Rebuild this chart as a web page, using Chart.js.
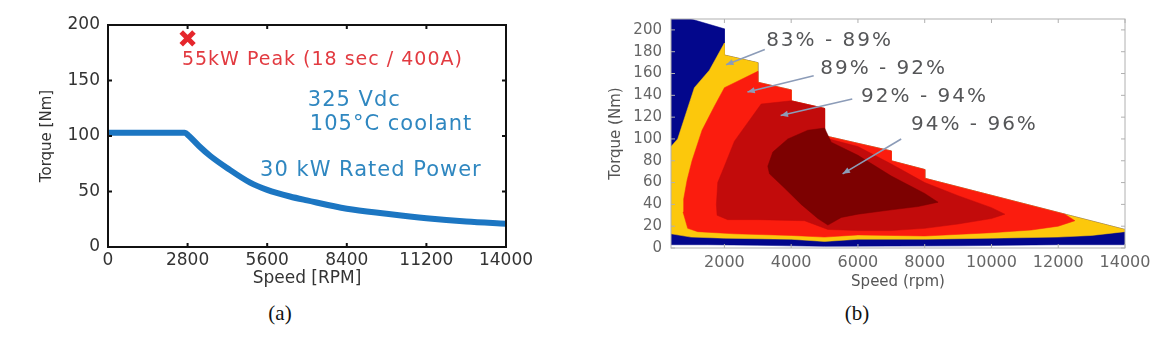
<!DOCTYPE html>
<html>
<head>
<meta charset="utf-8">
<script src="https://cdn.jsdelivr.net/npm/chart.js@4.4.1/dist/chart.umd.min.js"></script>
<style>
  body { margin: 0; background: #fff; width: 1158px; height: 343px; position: relative; overflow: hidden; }
  .panel { position: absolute; top: 0; }
  .cap { position: absolute; font-family: "Liberation Serif", serif; font-size: 21px; color: #111; transform: translate(-50%, -50%); }
</style>
</head>
<body>
<div class="panel" style="left:0"><canvas id="torqueChart" width="540" height="300"></canvas></div>
<div class="panel" style="left:590px"><canvas id="effChart" width="568" height="300"></canvas></div>
<div class="cap" style="left:280px;top:313px">(a)</div>
<div class="cap" style="left:857px;top:313px">(b)</div>

<script>
// (a) torque vs speed
const speedA = [0, 2700, 2850, 3200, 3600, 4200, 5000, 5600, 6400, 7000, 8400, 9800, 11200, 12600, 14000];
const torqueA = [103, 103, 100, 91, 82, 71, 58, 51.5, 45.5, 42, 34.5, 30, 26, 23, 21];
const peakA = { x: 2800, y: 188 };
const speedTicksA = [0, 2800, 5600, 8400, 11200, 14000];
const torqueTicksA = [0, 50, 100, 150, 200];

// (b) efficiency map, zones as [rpm, Nm] outlines
const zoneOuter = [[400, 210], [1000, 210], [2000, 201], [2000, 177], [3000, 170], [3000, 152], [4000, 145], [4000, 135],
  [5000, 128], [5000, 103], [7000, 89], [7000, 80], [8000, 72], [8000, 64], [14000, 17], [14000, 3], [12000, 3],
  [9000, 2], [5000, 1.5], [3000, 2.5], [1500, 3], [400, 3], [400, 210]];
const zone83 = [[400, 13], [400, 93], [600, 100], [1100, 147], [1550, 163], [2000, 188], [2000, 177], [3000, 170],
  [3000, 152], [4000, 145], [4000, 135], [5000, 128], [5000, 103], [7000, 89], [7000, 80], [8000, 72], [8000, 64],
  [14000, 17], [14000, 15], [13000, 11.5], [12000, 10], [10000, 9], [8000, 8], [6000, 8], [5000, 6], [4000, 8],
  [2000, 9], [1000, 10], [400, 13]];
const zone89 = [[760, 33], [780, 45], [880, 62], [1030, 80], [1330, 108], [1700, 130], [2000, 147], [3000, 162],
  [3000, 152], [4000, 145], [4000, 135], [5000, 128], [5000, 103], [7000, 89], [7000, 80], [8000, 72], [8000, 64],
  [12200, 31], [12500, 25], [12000, 20], [11200, 16.5], [10000, 14], [8000, 11], [6000, 12], [5000, 10], [4000, 11.5],
  [2300, 13], [1200, 15], [900, 18], [760, 33]];
const zone92 = [[1780, 30], [1760, 40], [1800, 60], [2000, 75], [2300, 98], [3100, 132], [4000, 135], [5000, 128],
  [5000, 101], [6000, 93], [7000, 77], [8000, 60], [9000, 48], [10000, 37], [10400, 31], [10000, 27], [9000, 22],
  [8000, 18], [7000, 16], [6000, 16], [5100, 17], [4400, 25], [3000, 26], [2100, 26], [1780, 30]];
const zone94 = [[3300, 75], [3450, 88], [3900, 100], [4500, 108], [5000, 110], [5200, 97], [6000, 85], [7000, 66],
  [8000, 50], [8400, 42], [7800, 38], [7000, 35], [6000, 31], [5500, 28], [5100, 21], [4800, 27], [4300, 40],
  [3800, 55], [3350, 68], [3300, 75]];
const zoneNames = ['83% - 89%', '89% - 92%', '92% - 94%', '94% - 96%'];
const speedTicksB = [2000, 4000, 6000, 8000, 10000, 12000, 14000];
const torqueTicksB = [0, 20, 40, 60, 80, 100, 120, 140, 160, 180, 200];

const toXY = pts => pts.map(p => ({ x: p[0], y: p[1] }));

// box round the plot with small inward ticks
function framePlugin(color, width, tickLen) {
  return {
    id: 'frame',
    afterDatasetsDraw(chart) {
      const { ctx, chartArea: a, scales: { x, y } } = chart;
      ctx.save();
      ctx.strokeStyle = color;
      ctx.lineWidth = width;
      ctx.strokeRect(a.left, a.top, a.right - a.left, a.bottom - a.top);
      ctx.beginPath();
      x.ticks.forEach(t => {
        const px = x.getPixelForValue(t.value);
        ctx.moveTo(px, a.bottom); ctx.lineTo(px, a.bottom - tickLen);
        ctx.moveTo(px, a.top); ctx.lineTo(px, a.top + tickLen);
      });
      y.ticks.forEach(t => {
        const py = y.getPixelForValue(t.value);
        ctx.moveTo(a.left, py); ctx.lineTo(a.left + tickLen, py);
        ctx.moveTo(a.right, py); ctx.lineTo(a.right - tickLen, py);
      });
      ctx.stroke();
      ctx.restore();
    }
  };
}

// text notes for (a)
const notesA = {
  id: 'notesA',
  afterDatasetsDraw(chart) {
    const { ctx, scales: { x, y } } = chart;
    ctx.save();
    ctx.textBaseline = 'middle';
    ctx.letterSpacing = '1px';
    ctx.font = '19px "DejaVu Sans"';
    ctx.fillStyle = '#e23a40';
    ctx.fillText('55kW Peak (18 sec / 400A)', x.getPixelForValue(2600), y.getPixelForValue(168));
    ctx.font = '21px "DejaVu Sans"';
    ctx.fillStyle = '#2f87c0';
    ctx.fillText('325 Vdc', x.getPixelForValue(7030), y.getPixelForValue(132));
    ctx.fillText('105\u00B0C coolant', x.getPixelForValue(7100), y.getPixelForValue(110));
    ctx.fillText('30 kW Rated Power', x.getPixelForValue(5350), y.getPixelForValue(68.5));
    ctx.restore();
  }
};

// zone labels and arrows for (b)
const notesB = {
  id: 'notesB',
  afterDatasetsDraw(chart) {
    const { ctx, scales: { x, y } } = chart;
    const spots = [[3250, 190], [4870, 164.5], [6095, 139], [7590, 113]];
    const arrows = [[3210, 182, 2050, 168], [4674, 158, 2690, 143], [5830, 136.7, 3685, 121.5], [7295, 100, 5540, 68]];
    ctx.save();
    ctx.font = '20px "DejaVu Sans"';
    ctx.letterSpacing = '2px';
    ctx.textBaseline = 'middle';
    ctx.fillStyle = '#555658';
    zoneNames.forEach((t, i) => {
      ctx.fillText(t, x.getPixelForValue(spots[i][0]), y.getPixelForValue(spots[i][1]));
    });
    ctx.strokeStyle = '#8c9cb8';
    ctx.fillStyle = '#8c9cb8';
    ctx.lineWidth = 1.6;
    arrows.forEach(a => {
      const x0 = x.getPixelForValue(a[0]), y0 = y.getPixelForValue(a[1]);
      const x1 = x.getPixelForValue(a[2]), y1 = y.getPixelForValue(a[3]);
      const ang = Math.atan2(y1 - y0, x1 - x0);
      ctx.beginPath();
      ctx.moveTo(x0, y0);
      ctx.lineTo(x1, y1);
      ctx.stroke();
      ctx.beginPath();
      ctx.moveTo(x1, y1);
      ctx.lineTo(x1 - 8 * Math.cos(ang - 0.4), y1 - 8 * Math.sin(ang - 0.4));
      ctx.lineTo(x1 - 8 * Math.cos(ang + 0.4), y1 - 8 * Math.sin(ang + 0.4));
      ctx.closePath();
      ctx.fill();
    });
    ctx.restore();
  }
};

const plain = v => String(v);
const noGrid = { display: false, drawTicks: false };

new Chart(document.getElementById('torqueChart'), {
  type: 'line',
  data: {
    datasets: [{
      data: speedA.map((s, i) => ({ x: s, y: torqueA[i] })),
      borderColor: '#1c76c2',
      borderWidth: 6,
      pointRadius: 0,
      cubicInterpolationMode: 'monotone',
      fill: false
    }, {
      data: [peakA],
      showLine: false,
      pointStyle: 'crossRot',
      pointRadius: 9,
      borderWidth: 5,
      borderColor: '#e5262c'
    }]
  },
  options: {
    responsive: false,
    animation: false,
    layout: { padding: { top: 25, right: 34, left: 0, bottom: 0 } },
    plugins: { legend: { display: false }, tooltip: { enabled: false } },
    scales: {
      x: {
        type: 'linear', min: 0, max: 14000,
        afterBuildTicks: s => { s.ticks = speedTicksA.map(v => ({ value: v })); },
        afterFit: s => { s.height = 53; },
        grid: noGrid, border: { display: false },
        ticks: { callback: plain, color: '#333', font: { family: 'DejaVu Sans', size: 17 }, padding: 3, maxRotation: 0 },
        title: { display: true, text: 'Speed [RPM]', color: '#333', font: { family: 'DejaVu Sans', size: 17 }, padding: { top: 0, bottom: 11 } }
      },
      y: {
        min: 0, max: 200,
        afterBuildTicks: s => { s.ticks = torqueTicksA.map(v => ({ value: v })); },
        afterFit: s => { s.width = 108; },
        grid: noGrid, border: { display: false },
        ticks: { callback: plain, color: '#333', font: { family: 'DejaVu Sans', size: 17 }, padding: 8 },
        title: { display: true, text: 'Torque [Nm]', color: '#333', font: { family: 'DejaVu Sans', size: 15 }, padding: { top: 38, bottom: 0 } }
      }
    }
  },
  plugins: [framePlugin('#111', 2, 4), notesA]
});

function zone(points, color, order) {
  return {
    data: toXY(points),
    backgroundColor: color,
    borderColor: color,
    borderWidth: 0.5,
    pointRadius: 0,
    fill: 'shape',
    order: order
  };
}

new Chart(document.getElementById('effChart'), {
  type: 'line',
  data: {
    datasets: [
      zone(zoneOuter, '#03078c', 5),
      zone(zone83, '#fcc80c', 4),
      zone(zone89, '#fb1c0e', 3),
      zone(zone92, '#c20b0b', 2),
      zone(zone94, '#7d0101', 1)
    ]
  },
  options: {
    responsive: false,
    animation: false,
    layout: { padding: { top: 19, right: 33, left: 0, bottom: 0 } },
    plugins: { legend: { display: false }, tooltip: { enabled: false } },
    scales: {
      x: {
        type: 'linear', min: 400, max: 14000,
        afterBuildTicks: s => { s.ticks = speedTicksB.map(v => ({ value: v })); },
        afterFit: s => { s.height = 52; },
        grid: noGrid, border: { display: false },
        ticks: { callback: plain, color: '#666', font: { family: 'DejaVu Sans', size: 16 }, padding: 5, maxRotation: 0 },
        title: { display: true, text: 'Speed (rpm)', color: '#555', font: { family: 'DejaVu Sans', size: 15 }, padding: { top: 0, bottom: 9 } }
      },
      y: {
        min: 0, max: 210,
        afterBuildTicks: s => { s.ticks = torqueTicksB.map(v => ({ value: v })); },
        afterFit: s => { s.width = 81; },
        grid: noGrid, border: { display: false },
        ticks: { callback: plain, color: '#666', font: { family: 'DejaVu Sans', size: 15 }, padding: 9 },
        title: { display: true, text: 'Torque (Nm)', color: '#555', font: { family: 'DejaVu Sans', size: 15 }, padding: { top: 17, bottom: 0 } }
      }
    }
  },
  plugins: [framePlugin('#b0b0b0', 1, 4), notesB]
});
</script>
</body>
</html>
